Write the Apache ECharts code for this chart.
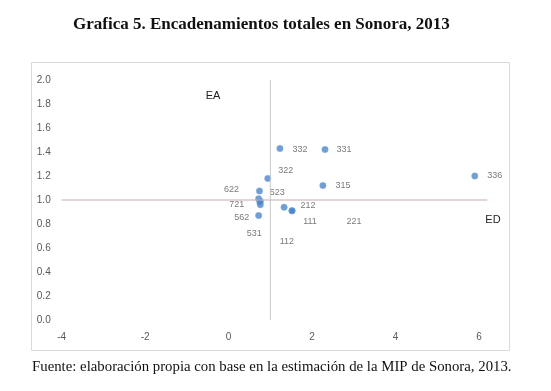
<!DOCTYPE html>
<html>
<head>
<meta charset="utf-8">
<script src="https://cdn.jsdelivr.net/npm/echarts@6/dist/echarts.min.js"></script>
<style>
html,body{margin:0;padding:0;background:#fff;}
#c{width:551px;height:391px;}
</style>
</head>
<body>
<div id="c"></div>
<script>
// Sector codes and values (x = backward linkage index, y = forward linkage index)
var codes  = ['332','331','322','315','336','622','721','523','531','562','212','111','112','221'];
var xVals  = [1.23, 2.31, 0.94, 2.26, 5.90, 0.74, 0.72, 0.76, 0.76, 0.72, 1.33, 1.52, 0.75, 1.52];
var yVals  = [1.43, 1.42, 1.18, 1.12, 1.20, 1.075, 1.01, 0.99, 0.96, 0.87, 0.94, 0.91, 0.98, 0.91];
// label placement (pixel offsets from the point)
var labelOffsets = [[20,1],[19,0],[18,-8],[20,0],[20,0],[-28,-1],[-22,6],[17,-9],[-6,29],[-17,2],[24,-2],[18,11],[27,39],[62,11]];
// reference lines
var hLineX = [-4, 6.2], hLineY = [1, 1];
var vLineX = [1, 1],   vLineY = [0, 2];

var chart = echarts.init(document.getElementById('c'));
var pts = codes.map(function(c,i){
  return {value:[xVals[i], yVals[i]], name:c};
});
chart.setOption({
  animation:false,
  title:{
    text:'Grafica 5. Encadenamientos totales en Sonora, 2013',
    left:68, top:11,
    textStyle:{fontFamily:'Liberation Serif', fontWeight:'bold', fontSize:17, color:'#111'}
  },
  grid:{left:61.7, right:63.7, top:80, bottom:71},
  xAxis:{
    type:'value', min:-4, max:6.2, interval:2,
    axisLine:{show:false}, axisTick:{show:false}, splitLine:{show:false},
    axisLabel:{showMaxLabel:false, color:'#595959', fontSize:10, fontFamily:'Liberation Sans', margin:12}
  },
  yAxis:{
    type:'value', min:0, max:2, interval:0.2,
    axisLine:{show:false}, axisTick:{show:false}, splitLine:{show:false},
    axisLabel:{color:'#595959', fontSize:10, fontFamily:'Liberation Sans', margin:11,
      formatter:function(v){return v.toFixed(1);}}
  },
  graphic:[
    {type:'rect', shape:{x:31.5,y:62.5,width:478,height:288}, style:{fill:'none', stroke:'#d9d9d9', lineWidth:1}, z:-1},
    {type:'text', left:32, top:360, style:{text:'Fuente: elaboración propia con base en la estimación de la MIP de Sonora, 2013.', font:'14.8px "Liberation Serif"', fill:'#111'}},
    {type:'text', x:213, y:96, style:{text:'EA', font:'11px "Liberation Sans"', fill:'#222', textAlign:'center', textVerticalAlign:'middle'}},
    {type:'text', x:493, y:220, style:{text:'ED', font:'11px "Liberation Sans"', fill:'#222', textAlign:'center', textVerticalAlign:'middle'}}
  ],
  series:[
    {type:'line', data:hLineX.map(function(x,i){return [x,hLineY[i]];}), symbol:'none',
      lineStyle:{color:'#c9a9a9', width:1}, silent:true},
    {type:'line', data:vLineX.map(function(x,i){return [x,vLineY[i]];}), symbol:'none',
      lineStyle:{color:'#c8c8c8', width:1}, silent:true},
    {type:'scatter', data:pts, symbolSize:6.5,
      itemStyle:{color:'#4a86c8', borderColor:'#8db4e2', borderWidth:0.5},
      label:{show:true, position:'inside', formatter:'{b}', color:'#595959', fontSize:9, fontFamily:'Liberation Sans'},
      labelLayout:function(p){
        var o = labelOffsets[p.dataIndex];
        return {dx:o[0], dy:o[1], hideOverlap:false};
      }
    }
  ]
});
</script>
</body>
</html>
